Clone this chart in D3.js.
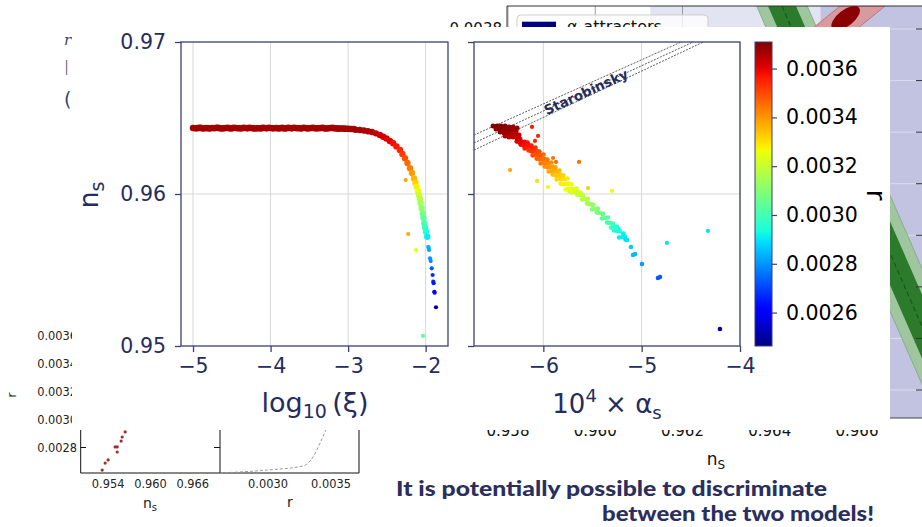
<!DOCTYPE html>
<html>
<head>
<meta charset="utf-8">
<script src="https://cdn.jsdelivr.net/npm/d3@7/dist/d3.min.js"></script>
<style>
html,body{margin:0;padding:0;background:#fff;}
svg{display:block;}
</style>
</head>
<body>
<svg id="chart" width="922" height="527"></svg>
<script>
// ================= DATA =================
// Left panel: n_s vs log10(xi), colour = r
const plateauLogXi = [-5.00,-4.95,-4.90,-4.85,-4.80,-4.75,-4.70,-4.65,-4.60,-4.55,-4.50,-4.45,-4.40,-4.35,-4.30,-4.25,-4.20,-4.15,-4.10,-4.05,-4.00,-3.95,-3.90,-3.85,-3.80,-3.75,-3.70,-3.65,-3.60,-3.55,-3.50,-3.45,-3.40,-3.35,-3.30,-3.25,-3.20,-3.15,-3.10,-3.05,-3.00,-2.95,
  -4.975,-4.925,-4.875,-4.825,-4.775,-4.725,-4.675,-4.625,-4.575,-4.525,-4.475,-4.425,-4.375,-4.325,-4.275,-4.225,-4.175,-4.125,-4.075,-4.025,-3.975,-3.925,-3.875,-3.825,-3.775,-3.725,-3.675,-3.625,-3.575,-3.525,-3.475,-3.425,-3.375,-3.325,-3.275,-3.225,-3.175,-3.125,-3.075,-3.025,-2.975,-2.925];
const plateauNs = [0.96434,0.96432,0.96435,0.96433,0.96431,0.96434,0.96436,0.96432,0.96433,0.96435,
  0.96431,0.96434,0.96433,0.96436,0.96432,0.96434,0.96431,0.96433,0.96435,0.96432,
  0.96434,0.96433,0.96431,0.96435,0.96432,0.96434,0.96436,0.96433,0.96431,0.96434,
  0.96433,0.96435,0.96432,0.96434,0.96431,0.96433,0.96435,0.96432,0.96431,0.96430,
  0.96429,0.96428,
  0.96433,0.96435,0.96431,0.96434,0.96432,0.96433,0.96435,0.96431,0.96434,0.96432,
  0.96436,0.96433,0.96431,0.96434,0.96435,0.96432,0.96433,0.96431,0.96434,0.96436,
  0.96432,0.96434,0.96433,0.96431,0.96435,0.96432,0.96434,0.96433,0.96436,0.96431,
  0.96434,0.96432,0.96433,0.96435,0.96431,0.96434,0.96432,0.96430,0.96431,0.96429,
  0.96428,0.96427];
const plateauR = 0.00367;
const tailLogXi = [-2.901,-2.849,-2.797,-2.745,-2.693,-2.642,-2.590,-2.548,-2.506,-2.461,-2.419,-2.377,-2.332,-2.300,-2.267,-2.235,-2.202,-2.177,-2.151,-2.132,-2.116,-2.099,-2.086,-2.074,-2.065,-2.052,-2.039,-2.028,-2.018,-2.006,-1.996,-1.979];
const tailNs = [0.96422,0.96421,0.96418,0.96413,0.96408,0.96399,0.96388,0.96377,0.96365,0.96349,0.96334,0.96313,0.96289,0.96263,0.96235,0.96204,0.96169,0.96138,0.96103,0.96076,0.96048,0.96020,0.95993,0.95967,0.95939,0.95908,0.95873,0.95842,0.95807,0.95780,0.95752,0.95719];
const tailR = [0.00367,0.00367,0.00366,0.00366,0.00365,0.00364,0.00363,0.00362,0.00361,0.00360,0.00358,0.00357,0.00355,0.00352,0.00349,0.00346,0.00343,0.00339,0.00336,0.00332,0.00328,0.00325,0.00321,0.00318,0.00315,0.00311,0.00308,0.00304,0.00301,0.00298,0.00295,0.00291];
const sparseLogXi = [-1.966,-1.961,-1.957,-1.944,-1.935,-1.922,-1.910,-1.902,-1.897,-1.889,-1.884,-1.867,-2.258,-2.225,-2.125,-2.035];
const sparseNs = [0.95653,0.95645,0.95632,0.95577,0.95559,0.95511,0.95467,0.95423,0.95413,0.95357,0.95351,0.95255,0.96092,0.95737,0.95632,0.95066];
const sparseR = [0.00285,0.00284,0.00283,0.00280,0.00279,0.00272,0.00268,0.00266,0.00265,0.00263,0.00262,0.00250,0.00338,0.00337,0.00326,0.00305];

// Right panel: n_s vs 1e4*alpha_s, colour = r
const clusterAlpha = [-6.511,-6.471,-6.430,-6.389,-6.349,-6.308,-6.267,-6.481,-6.440,-6.399,-6.359,-6.318,-6.277,-6.440,-6.399,-6.359,-6.318,-6.277,-6.247,-6.389,-6.349,-6.308,-6.267,-6.237];
const clusterNs = [0.96447,0.96447,0.96447,0.96447,0.96441,0.96441,0.96434,0.96428,0.96428,0.96428,0.96421,0.96421,0.96414,0.96408,0.96401,0.96401,0.96395,0.96395,0.96388,0.96382,0.96375,0.96375,0.96368,0.96362];
const clusterR = [0.00371,0.00371,0.00371,0.00370,0.00370,0.00369,0.00368,0.00370,0.00370,0.00369,0.00369,0.00368,0.00367,0.00369,0.00368,0.00367,0.00366,0.00365,0.00364,0.00366,0.00365,0.00364,0.00363,0.00362];
const bandAlpha = [
  -6.216,-6.176,-6.135,-6.095,-6.054,-6.013,-5.973,-5.932,-5.891,-5.851,-5.810,-5.769,-5.718,-5.678,-5.627,-5.576,-5.525,-5.475,-5.424,-5.373,-5.322,-5.282,-5.251,-5.200,-5.149,-5.109,-5.088,-5.068,-4.997,-4.834,-4.814,-4.204,
  -6.271,-6.231,-6.190,-6.150,-6.109,-6.068,-6.028,-5.987,-5.946,-5.906,-5.865,-5.824,-5.773,-5.733,
  -6.244,-6.204,-6.163,-6.123,-6.082,-6.041,-6.001,-5.960,-5.919,-5.879,-5.838,-5.797,-5.746,-5.706,
  -6.189,-6.149,-6.108,-6.068,-6.027,-5.986,-5.946,-5.905,-5.864,-5.824,-5.783,-5.742,-5.691,-5.651,
  -6.161,-6.121,-6.080,-6.040,-5.999,-5.958,-5.918,-5.877,-5.836,-5.796,-5.755,-5.714,-5.663,-5.623,
  -5.657,-5.606,-5.555,-5.505,-5.454,-5.403,-5.352,-5.312,-5.281,-5.230,
  -5.597,-5.546,-5.495,-5.445,-5.394,-5.343,-5.292,-5.252,-5.221,-5.170,
  -5.600,-5.550,-5.500,-5.455,-5.395,-5.300,-5.235,-5.185,-5.165];
const bandNs = [
  0.96342,0.96322,0.96303,0.96283,0.96257,0.96230,0.96204,0.96178,0.96151,0.96125,0.96099,0.96066,0.96033,0.96013,0.95993,0.95967,0.95934,0.95901,0.95875,0.95842,0.95809,0.95783,0.95757,0.95717,0.95697,0.95651,0.95599,0.95605,0.95539,0.95447,0.95454,0.95112,
  0.96345,0.96325,0.96300,0.96286,0.96254,0.96233,0.96201,0.96181,0.96148,0.96128,0.96096,0.96069,0.96030,0.96016,
  0.96340,0.96320,0.96305,0.96281,0.96259,0.96228,0.96206,0.96176,0.96153,0.96123,0.96101,0.96064,0.96035,0.96011,
  0.96344,0.96324,0.96301,0.96285,0.96255,0.96232,0.96202,0.96180,0.96149,0.96127,0.96097,0.96068,0.96031,0.96015,
  0.96339,0.96319,0.96306,0.96280,0.96260,0.96227,0.96207,0.96175,0.96154,0.96122,0.96102,0.96063,0.96036,0.96010,
  0.95996,0.95964,0.95937,0.95898,0.95878,0.95839,0.95812,0.95780,0.95760,0.95714,
  0.95990,0.95970,0.95931,0.95904,0.95872,0.95845,0.95806,0.95786,0.95754,0.95720,
  0.95995,0.95945,0.95925,0.95880,0.95865,0.95780,0.95770,0.95740,0.95700];
const bandR = [
  0.00360,0.00358,0.00355,0.00352,0.00349,0.00346,0.00343,0.00340,0.00337,0.00334,0.00331,0.00328,0.00325,0.00323,0.00320,0.00317,0.00313,0.00310,0.00307,0.00304,0.00300,0.00297,0.00294,0.00291,0.00289,0.00287,0.00285,0.00285,0.00281,0.00273,0.00273,0.00251,
  0.00361,0.00359,0.00356,0.00353,0.00350,0.00347,0.00344,0.00341,0.00338,0.00335,0.00332,0.00329,0.00326,0.00324,
  0.00360,0.00358,0.00355,0.00352,0.00349,0.00346,0.00343,0.00340,0.00337,0.00334,0.00331,0.00328,0.00325,0.00323,
  0.00359,0.00357,0.00354,0.00351,0.00348,0.00345,0.00342,0.00339,0.00336,0.00333,0.00330,0.00327,0.00324,0.00322,
  0.00358,0.00356,0.00353,0.00350,0.00347,0.00344,0.00341,0.00338,0.00335,0.00332,0.00329,0.00326,0.00323,0.00321,
  0.00320,0.00317,0.00313,0.00310,0.00307,0.00304,0.00300,0.00297,0.00294,0.00291,
  0.00320,0.00317,0.00313,0.00310,0.00307,0.00304,0.00300,0.00297,0.00294,0.00291,
  0.00319,0.00315,0.00312,0.00308,0.00306,0.00298,0.00293,0.00291,0.00290];
const outlierAlpha = [-6.115,-6.054,-6.085,-5.901,-5.871,-5.637,-6.338,-6.064,-5.952,-5.546,-5.302,-4.743,-4.326];
const outlierNs = [0.96441,0.96382,0.96349,0.96237,0.96211,0.96211,0.96158,0.96086,0.96046,0.96039,0.96020,0.95678,0.95757];
const outlierR = [0.00357,0.00355,0.00355,0.00345,0.00345,0.00345,0.00338,0.00330,0.00327,0.00332,0.00326,0.00290,0.00290];
// Starobinsky band (three dotted lines): alpha / ns at start and end
const staroAlpha = [[-6.705,-4.598],[-6.705,-4.476],[-6.705,-4.373]];
const staroNs = [[0.96388,0.97],[0.96336,0.97],[0.96289,0.97]];
const staroLabelPos = [-5.566, 0.96671];

// Ticks / domains
const xTicksLeft = [-5,-4,-3,-2];
const xTicksRight = [-6,-5,-4];
const nsTicks = [0.95,0.96,0.97];
const cbTicks = [0.0026,0.0028,0.0030,0.0032,0.0034,0.0036];
const rDomain = [0.002463,0.003709];

// Background slide plot (partly hidden)
const bgNsTicks = [0.958,0.960,0.962,0.964,0.966];
const bgRTicks = [0.0024,0.0026,0.0028,0.0030,0.0032,0.0034,0.0036,0.0038];
const bgLightNs = [0.96126,0.96516];
const bgDarkNs = [0.96516,0.96900];
const greenCenterNs = [0.96428,0.96841];
const greenCenterR = [0.003889,0.002291];
const greenHalf = [0.00058,0.00032];
const redBandNs = [0.965610,0.966642,0.965687,0.964655];
const redBandR = [0.003889,0.003889,0.003757,0.003757];
const redCore = [0.96574,0.003842];

// Bottom-left fragment plot (partly hidden)
const fragNsTicks = [0.954,0.960,0.966];
const fragRTicksX = [0.0030,0.0035];
const fragRTicksY = [0.0028,0.0030,0.0032,0.0034,0.0036];
const fragDotNs = [0.95315,0.95357,0.95400,0.95499,0.95528,0.95528,0.95584,0.95599,0.95641];
const fragDotR = [0.002639,0.002689,0.002711,0.002804,0.002804,0.002768,0.002846,0.002875,0.002911];
const fragCurveX = [0.002619,0.002992,0.003278,0.003357,0.003413,0.003452,0.003492];
const fragCurveY = [0.002618,0.002639,0.002668,0.002732,0.002832,0.002911,0.002996];

// ================= DRAW =================
const svg = d3.select("#chart");
const NAVY = "#262c5e", SPINE = "#3b4072", DV = "DejaVu Sans";

// jet colormap
const jR = d3.scaleLinear().domain([0,0.35,0.66,0.89,1]).range([0,0,1,1,0.5]);
const jG = d3.scaleLinear().domain([0,0.125,0.375,0.64,0.91,1]).range([0,0,1,1,0,0]);
const jB = d3.scaleLinear().domain([0,0.11,0.34,0.65,1]).range([0.5,1,1,0,0]);
function jet(t){ t=Math.max(0,Math.min(1,t)); return d3.rgb(jR(t)*255,jG(t)*255,jB(t)*255).formatHex(); }
const rNorm = d3.scaleLinear().domain(rDomain).range([0,1]);
const col = v => jet(rNorm(v));

svg.append("rect").attr("width",922).attr("height",527).attr("fill","#fff");

// ---- top-left slide text fragments
const tl = svg.append("g").attr("fill","#3a3f70");
tl.append("text").attr("x",64).attr("y",45).attr("font-family","DejaVu Serif").attr("font-style","italic").attr("font-size",15).text("r");
tl.append("text").attr("x",64).attr("y",75).attr("font-family",DV).attr("font-size",19).attr("font-weight",300).text("l");
tl.append("text").attr("x",64).attr("y",106).attr("font-family",DV).attr("font-size",19).text("(");

// ---- bottom-left fragment
const fA = d3.scaleLinear().domain([0.9501,0.9698]).range([80.7,219.5]);
const fB = d3.scaleLinear().domain([0.002619,0.003722]).range([220,359]);
const fY = d3.scaleLinear().domain([0.0026,0.0036]).range([475.5,335.5]);
const fr = svg.append("g");
fr.append("path").attr("d",`M80.7,300V473H359V300M220,300V473`).attr("fill","none").attr("stroke","#111").attr("stroke-width",1);
fragRTicksY.forEach(t=>{
  fr.append("line").attr("x1",80.7).attr("x2",86).attr("y1",fY(t)).attr("y2",fY(t)).attr("stroke","#111");
  fr.append("line").attr("x1",214).attr("x2",220).attr("y1",fY(t)).attr("y2",fY(t)).attr("stroke","#111");
  fr.append("text").attr("x",77).attr("y",fY(t)+4).attr("text-anchor","end").attr("font-family",DV).attr("font-size",11.4).attr("fill","#222").text(t.toFixed(4));
});
fragNsTicks.forEach(t=>fr.append("text").attr("x",fA(t)).attr("y",488).attr("text-anchor","middle").attr("font-family",DV).attr("font-size",11.4).attr("fill","#222").text(t.toFixed(3)));
fragRTicksX.forEach(t=>fr.append("text").attr("x",fB(t)).attr("y",488).attr("text-anchor","middle").attr("font-family",DV).attr("font-size",11.4).attr("fill","#222").text(t.toFixed(4)));
fr.selectAll("circle.fd").data(fragDotNs.map((d,i)=>[d,fragDotR[i]])).join("circle")
  .attr("cx",d=>fA(d[0])).attr("cy",d=>fY(d[1])).attr("r",1.6).attr("fill","#a52a2a");
fr.append("path").datum(fragCurveX.map((d,i)=>[d,fragCurveY[i]]))
  .attr("d",d3.line().x(d=>fB(d[0])).y(d=>fY(d[1])).curve(d3.curveMonotoneX))
  .attr("fill","none").attr("stroke","#999").attr("stroke-width",1).attr("stroke-dasharray","3,2");
const fl1 = fr.append("text").attr("x",150).attr("y",508).attr("text-anchor","middle").attr("font-family",DV).attr("font-size",14).attr("fill","#222");
fl1.append("tspan").text("n"); fl1.append("tspan").attr("font-size",10).attr("dy",3).text("s");
fr.append("text").attr("x",290).attr("y",507).attr("text-anchor","middle").attr("font-family",DV).attr("font-size",14).attr("fill","#222").text("r");
fr.append("text").attr("transform","translate(16,395) rotate(-90)").attr("text-anchor","middle").attr("font-family",DV).attr("font-size",13).attr("fill","#222").text("r");

// ---- background slide plot
const bx = d3.scaleLinear().domain([0.958,0.966]).range([508,857]);
const by = d3.scaleLinear().domain([0.0024,0.0038]).range([390,29]);
const bg = svg.append("g");
bg.append("rect").attr("x",bx(bgLightNs[0])).attr("y",6).attr("width",bx(bgLightNs[1])-bx(bgLightNs[0])).attr("height",412).attr("fill","#e3e4f2");
bg.append("rect").attr("x",bx(bgDarkNs[0])).attr("y",6).attr("width",bx(bgDarkNs[1])-bx(bgDarkNs[0])).attr("height",412).attr("fill","#c1c3e1");
bgRTicks.forEach(t=>bg.append("line").attr("x1",507).attr("x2",922).attr("y1",by(t)).attr("y2",by(t)).attr("stroke","#e2e3ef").attr("stroke-width",0.8));
bgNsTicks.forEach(t=>bg.append("line").attr("x1",bx(t)).attr("x2",bx(t)).attr("y1",6).attr("y2",418).attr("stroke","#8a8a8a").attr("stroke-width",0.8));
function greenPoly(h){
  return [[greenCenterNs[0]-h,greenCenterR[0]],[greenCenterNs[0]+h,greenCenterR[0]],[greenCenterNs[1]+h,greenCenterR[1]],[greenCenterNs[1]-h,greenCenterR[1]]]
    .map(p=>[bx(p[0]),by(p[1])]);
}
const gclip = bg.append("clipPath").attr("id","bgclip");
gclip.append("rect").attr("x",507).attr("y",6).attr("width",420).attr("height",412);
const bgin = bg.append("g").attr("clip-path","url(#bgclip)");
bgin.append("polygon").attr("points",greenPoly(greenHalf[0]).join(" ")).attr("fill","#9fc69f").attr("stroke","#7aa97a").attr("stroke-width",0.8);
bgin.append("polygon").attr("points",greenPoly(greenHalf[1]).join(" ")).attr("fill","#2c7b2c");
bgin.append("line").attr("x1",bx(greenCenterNs[0])).attr("y1",by(greenCenterR[0])).attr("x2",bx(greenCenterNs[1])).attr("y2",by(greenCenterR[1]))
  .attr("stroke","#155a15").attr("stroke-width",1.2).attr("stroke-dasharray","5,3");
bgin.append("polygon").attr("points",redBandNs.map((d,i)=>[bx(d),by(redBandR[i])]).join(" ")).attr("fill","#d79a9f").attr("stroke","#c0666c").attr("stroke-width",0.8);
bgin.append("ellipse").attr("transform",`translate(${bx(redCore[0])},${by(redCore[1])}) rotate(-38)`).attr("rx",17).attr("ry",8).attr("fill","#8b0000");
bg.append("path").attr("d","M507,418V6H922").attr("fill","none").attr("stroke","#333").attr("stroke-width",1);
bg.append("line").attr("x1",507).attr("x2",922).attr("y1",418).attr("y2",418).attr("stroke","#444").attr("stroke-width",1.2);
bgRTicks.forEach(t=>bg.append("line").attr("x1",916).attr("x2",922).attr("y1",by(t)).attr("y2",by(t)).attr("stroke","#333"));
// legend
bg.append("rect").attr("x",517).attr("y",15).attr("width",191).attr("height",50).attr("rx",4).attr("fill","#fff").attr("fill-opacity",0.8).attr("stroke","#cfcfcf");
bg.append("rect").attr("x",522).attr("y",21.7).attr("width",34).attr("height",11).attr("fill","#000080");
bg.append("text").attr("x",567).attr("y",32).attr("font-family",DV).attr("font-size",16).attr("fill","#111").text("α-attractors");
bg.append("text").attr("x",502).attr("y",by(0.0038)+5).attr("text-anchor","end").attr("font-family",DV).attr("font-size",15).attr("fill","#111").text("0.0038");
bgNsTicks.forEach(t=>bg.append("text").attr("x",bx(t)).attr("y",436).attr("text-anchor","middle").attr("font-family",DV).attr("font-size",15).attr("fill","#111").text(t.toFixed(3)));
const bgl = bg.append("text").attr("x",716).attr("y",465).attr("text-anchor","middle").attr("font-family",DV).attr("font-size",17).attr("fill","#111");
bgl.append("tspan").text("n"); bgl.append("tspan").attr("font-size",12).attr("dy",4).text("S");

// ---- main figure white panel
svg.append("rect").attr("x",72).attr("y",27).attr("width",818).attr("height",403).attr("fill","#fff");

const xL = d3.scaleLinear().domain([-5.155,-1.712]).range([181,448]);
const xR = d3.scaleLinear().domain([-6.705,-4.0]).range([474,740]);
const y = d3.scaleLinear().domain([0.95,0.97]).range([346,42]);
const cbY = d3.scaleLinear().domain(rDomain).range([346,42]);

const main = svg.append("g");
function grid(xs, xTicks){
  const g = main.append("g").attr("stroke","#d6d6d6").attr("stroke-width",1);
  xTicks.forEach(t=>g.append("line").attr("x1",xs(t)).attr("x2",xs(t)).attr("y1",42).attr("y2",346));
  g.append("line").attr("x1",xs.range()[0]).attr("x2",xs.range()[1]).attr("y1",y(0.96)).attr("y2",y(0.96));
}
grid(xL, xTicksLeft); grid(xR, xTicksRight);

const defs = svg.append("defs");
defs.append("clipPath").attr("id","clipL").append("rect").attr("x",181).attr("y",42).attr("width",267).attr("height",304);
defs.append("clipPath").attr("id","clipR").append("rect").attr("x",474).attr("y",42).attr("width",266).attr("height",304);

// left points
const gL = main.append("g").attr("clip-path","url(#clipL)");
gL.selectAll("circle.p").data(plateauLogXi.map((d,i)=>[d,plateauNs[i],plateauR])).join("circle")
  .attr("cx",d=>xL(d[0])).attr("cy",d=>y(d[1])).attr("r",3.3).attr("fill",d=>col(d[2]));
gL.selectAll("circle.t").data(tailLogXi.map((d,i)=>[d,tailNs[i],tailR[i]])).join("circle")
  .attr("cx",d=>xL(d[0])).attr("cy",d=>y(d[1])).attr("r",3.2).attr("fill",d=>col(d[2]));
gL.selectAll("circle.s").data(sparseLogXi.map((d,i)=>[d,sparseNs[i],sparseR[i]])).join("circle")
  .attr("cx",d=>xL(d[0])).attr("cy",d=>y(d[1])).attr("r",2.1).attr("fill",d=>col(d[2]));

// right panel
const gR = main.append("g").attr("clip-path","url(#clipR)");
staroAlpha.forEach((a,i)=>{
  gR.append("line").attr("x1",xR(a[0])).attr("y1",y(staroNs[i][0])).attr("x2",xR(a[1])).attr("y2",y(staroNs[i][1]))
    .attr("stroke","#333").attr("stroke-width",0.8).attr("stroke-dasharray","2,1.3");
});
gR.selectAll("circle.b").data(bandAlpha.map((d,i)=>[d,bandNs[i],bandR[i]])).join("circle")
  .attr("cx",d=>xR(d[0])).attr("cy",d=>y(d[1])).attr("r",2.3).attr("fill",d=>col(d[2]));
gR.selectAll("circle.c").data(clusterAlpha.map((d,i)=>[d,clusterNs[i],clusterR[i]])).join("circle")
  .attr("cx",d=>xR(d[0])).attr("cy",d=>y(d[1])).attr("r",2.5).attr("fill",d=>col(d[2]));
gR.selectAll("circle.o").data(outlierAlpha.map((d,i)=>[d,outlierNs[i],outlierR[i]])).join("circle")
  .attr("cx",d=>xR(d[0])).attr("cy",d=>y(d[1])).attr("r",2.1).attr("fill",d=>col(d[2]));
{
  const dx = xR(staroAlpha[1][1])-xR(staroAlpha[1][0]);
  const dy = y(staroNs[1][1])-y(staroNs[1][0]);
  const ang = Math.atan2(dy,dx)*180/Math.PI;
  main.append("text").attr("transform",`translate(${xR(staroLabelPos[0])},${y(staroLabelPos[1])}) rotate(${ang})`)
    .attr("text-anchor","middle").attr("dy","0.35em").attr("font-family",DV).attr("font-weight","bold").attr("font-size",13.5)
    .attr("fill",NAVY).text("Starobinsky");
}

// frames
main.append("rect").attr("x",181).attr("y",42).attr("width",267).attr("height",304).attr("fill","none").attr("stroke",SPINE).attr("stroke-width",1.3);
main.append("rect").attr("x",474).attr("y",42).attr("width",266).attr("height",304).attr("fill","none").attr("stroke",SPINE).attr("stroke-width",1.3);

function styleAxis(g){
  g.select(".domain").remove();
  g.selectAll(".tick line").attr("stroke",SPINE).attr("stroke-width",1.3);
  g.selectAll(".tick text").attr("fill",NAVY).attr("font-family",DV).attr("font-size",20.5);
}
const fmtX = d3.format("d");
main.append("g").attr("transform","translate(0,346)")
  .call(d3.axisBottom(xL).tickValues(xTicksLeft).tickSize(6).tickPadding(6).tickFormat(fmtX)).call(styleAxis);
main.append("g").attr("transform","translate(0,346)")
  .call(d3.axisBottom(xR).tickValues(xTicksRight).tickSize(6).tickPadding(6).tickFormat(fmtX)).call(styleAxis);
main.append("g").attr("transform","translate(181,0)")
  .call(d3.axisLeft(y).tickValues(nsTicks).tickSize(6).tickPadding(9).tickFormat(d3.format(".2f"))).call(styleAxis);
main.append("g").attr("transform","translate(474,0)")
  .call(d3.axisLeft(y).tickValues(nsTicks).tickSize(6).tickFormat("")).call(styleAxis);

// axis labels
const yl = main.append("text").attr("transform","translate(98,195) rotate(-90)").attr("text-anchor","middle")
  .attr("font-family",DV).attr("font-size",27).attr("fill",NAVY);
yl.append("tspan").text("n"); yl.append("tspan").attr("font-size",19).attr("dy",6).text("s");
const xl1 = main.append("text").attr("x",315).attr("y",412).attr("text-anchor","middle").attr("font-family",DV).attr("font-size",27).attr("fill",NAVY);
xl1.append("tspan").text("log"); xl1.append("tspan").attr("font-size",19).attr("dy",6).text("10"); xl1.append("tspan").attr("dy",-6).text("\u2009(ξ)");
const xl2 = main.append("text").attr("x",607).attr("y",413).attr("text-anchor","middle").attr("font-family",DV).attr("font-size",26).attr("fill",NAVY);
xl2.append("tspan").text("10"); xl2.append("tspan").attr("font-size",18).attr("dy",-11).text("4");
xl2.append("tspan").attr("dy",11).text(" × α"); xl2.append("tspan").attr("font-size",18).attr("dy",6).text("s");

// colorbar
const grad = defs.append("linearGradient").attr("id","jetgrad").attr("x1",0).attr("y1",1).attr("x2",0).attr("y2",0);
d3.range(0,1.0001,0.02).forEach(t=>grad.append("stop").attr("offset",t).attr("stop-color",jet(t)));
main.append("rect").attr("x",755).attr("y",42).attr("width",17).attr("height",304).attr("fill","url(#jetgrad)").attr("stroke",SPINE).attr("stroke-width",1);
main.append("g").attr("transform","translate(772,0)")
  .call(d3.axisRight(cbY).tickValues(cbTicks).tickSize(5).tickPadding(9).tickFormat(d3.format(".4f")))
  .call(g=>{ g.select(".domain").remove(); g.selectAll(".tick line").attr("stroke",SPINE).attr("stroke-width",1.2);
    g.selectAll(".tick text").attr("fill","#000").attr("font-family",DV).attr("font-size",20.5); });
main.append("text").attr("transform","translate(867,195) rotate(90)").attr("text-anchor","middle")
  .attr("font-family",DV).attr("font-size",26).attr("fill","#000").text("r");

// ---- slide caption
const cap = svg.append("g").attr("font-family","Lato").attr("font-weight",900).attr("font-size",21).attr("fill","#2b2f5e");
cap.append("text").attr("x",396).attr("y",496).attr("textLength",431).attr("lengthAdjust","spacingAndGlyphs").text("It is potentially possible to discriminate");
cap.append("text").attr("x",874).attr("y",521).attr("text-anchor","end").attr("textLength",272).attr("lengthAdjust","spacingAndGlyphs").text("between the two models!");
</script>
</body>
</html>
